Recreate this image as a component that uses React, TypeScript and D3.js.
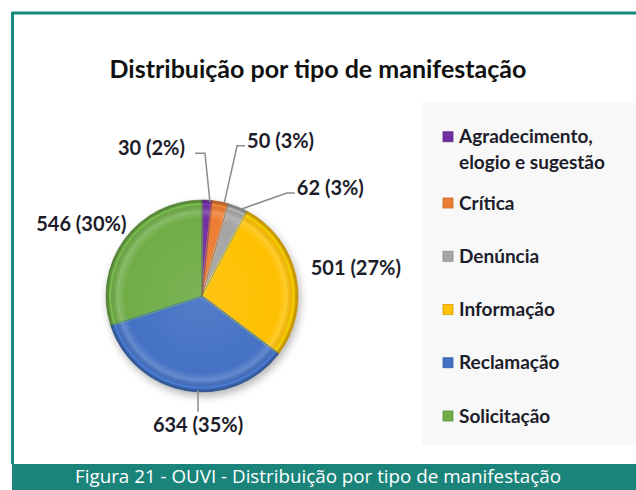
import * as d3 from "d3";

// tipos de manifestação, em ordem horária a partir das 12h
const categories = [
  "Agradecimento, elogio e sugestão",
  "Crítica",
  "Denúncia",
  "Informação",
  "Reclamação",
  "Solicitação",
];
const values = [30, 50, 62, 501, 634, 546];
const colors = ["#7030a0", "#ed7d31", "#a5a5a5", "#ffc000", "#4472c4", "#70ad47"];
const legendLines = [
  ["Agradecimento,", "elogio e sugestão"],
  ["Crítica"],
  ["Denúncia"],
  ["Informação"],
  ["Reclamação"],
  ["Solicitação"],
];

const title = "Distribuição por tipo de manifestação";
const caption = "Figura 21 - OUVI - Distribuição por tipo de manifestação";

const W = 636;
const H = 490;
const cx = 202;
const cy = 296;
const R = 96;

// label placement relative to the slice edge point (outer radius)
// [dx, dy, anchor, leader kind]
const labelPlace: [number, number, string, string][] = [
  [-22, -52, "end", "elbowLeft"],
  [27, -61, "start", "elbowRight"],
  [59, -19, "start", "elbowRight"],
  [15, -7, "start", "none"],
  [12, 34, "middle", "down"],
  [2, -15, "end", "none"],
];

const total = d3.sum(values);
const fmtLabel = (v: number) => `${v} (${Math.round((v / total) * 100)}%)`;

export default function App() {
  const pie = d3
    .pie<number>()
    .sort(null)
    .value((d) => d);
  const arcs = pie(values);
  const arc = d3.arc<d3.PieArcDatum<number>>().innerRadius(0).outerRadius(R);
  const insetArc = d3
    .arc<d3.PieArcDatum<number>>()
    .innerRadius(0)
    .outerRadius(R - 4);

  const edge = (a: d3.PieArcDatum<number>) => {
    const m = (a.startAngle + a.endAngle) / 2;
    return [Math.sin(m) * R, -Math.cos(m) * R];
  };

  const labelFont = "Lato, 'Open Sans', sans-serif";
  const textColor = "#1d1d2b";

  // legend rows
  const legendY = d3.scaleLinear().domain([1, 5]).range([203, 416]);

  return (
    <svg
      width={W}
      height={H}
      viewBox={`0 0 ${W} ${H}`}
      style={{ position: "fixed", left: 0, top: 0, display: "block", background: "#fff" }}
    >
      <defs>
        <filter id="shadow" x="-20%" y="-20%" width="150%" height="150%">
          <feDropShadow dx="2" dy="4" stdDeviation="4" floodColor="#000" floodOpacity="0.3" />
        </filter>
        <radialGradient id="rim" gradientUnits="userSpaceOnUse" cx={0} cy={0} r={R}>
          <stop offset="0" stopColor="#fff" stopOpacity="0.08" />
          <stop offset="0.8" stopColor="#fff" stopOpacity="0" />
          <stop offset="0.88" stopColor="#fff" stopOpacity="0.18" />
          <stop offset="0.95" stopColor="#000" stopOpacity="0.04" />
          <stop offset="1" stopColor="#000" stopOpacity="0.28" />
        </radialGradient>
      </defs>

      {/* frame */}
      <line x1={12} y1={13} x2={W} y2={13} stroke="#16897e" strokeWidth={3} />
      <line x1={12.5} y1={12} x2={12.5} y2={464} stroke="#16897e" strokeWidth={3} />

      {/* legend panel */}
      <rect x={422} y={103} width={W - 422} height={342} fill="#f8f8f8" />

      <text
        x={318}
        y={78}
        textAnchor="middle"
        fontFamily={labelFont}
        fontWeight={700}
        fontSize={25}
        fill="#111"
      >
        {title}
      </text>

      {/* pie */}
      <g transform={`translate(${cx},${cy})`}>
        <g filter="url(#shadow)">
          {arcs.map((a, i) => (
            <path key={i} d={arc(a) || ""} fill={colors[i]} />
          ))}
        </g>
        {arcs.map((a, i) => (
          <path
            key={"in" + i}
            d={insetArc(a) || ""}
            fill="none"
            stroke={d3.color(colors[i])!.brighter(0.7).toString()}
            strokeWidth={2}
            strokeOpacity={0.6}
          />
        ))}
        {arcs.map((a, i) => (
          <path key={"r" + i} d={arc(a) || ""} fill="url(#rim)" />
        ))}
        {arcs.map((a, i) => (
          <path
            key={"s" + i}
            d={arc(a) || ""}
            fill="none"
            stroke={d3.color(colors[i])!.darker(0.8).toString()}
            strokeWidth={1}
            strokeOpacity={0.6}
          />
        ))}

        {/* leaders + labels */}
        {arcs.map((a, i) => {
          const [ex, ey] = edge(a);
          const [dx, dy, anchor, kind] = labelPlace[i];
          const tx = ex + dx;
          const ty = ey + dy;
          let leader = null;
          if (kind === "elbowLeft") {
            leader = `M${tx + 10},${ty + 5}H${tx + 20}L${ex + 3},${ey + 2}`;
          } else if (kind === "elbowRight") {
            leader = `M${tx - 2},${ty + 5}H${tx - 10}L${ex + 4},${ey + 2}`;
          } else if (kind === "down") {
            const yEdge = Math.sqrt(R * R - tx * tx);
            leader = `M${tx},${yEdge - 2}V${ty - 13}`;
          }
          return (
            <g key={"l" + i}>
              {leader && <path d={leader} fill="none" stroke="#8c8c8c" strokeWidth={1.5} />}
              <text
                x={tx}
                y={ty}
                dy="0.35em"
                textAnchor={anchor}
                fontFamily={labelFont}
                fontWeight={700}
                fontSize={20}
                fill={textColor}
              >
                {fmtLabel(values[i])}
              </text>
            </g>
          );
        })}
      </g>

      {/* legend */}
      {categories.map((c, i) => {
        const lines = legendLines[i];
        const y0 = i === 0 ? legendY(0) - 13 : legendY(i);
        return (
          <g key={c}>
            <rect x={443} y={y0 - 5} width={10} height={10} fill={colors[i]} stroke={d3.color(colors[i])!.darker(0.5).toString()} strokeWidth={0.8} />
            {lines.map((ln, j) => (
              <text
                key={j}
                x={459}
                y={y0 + j * 26}
                dy="0.35em"
                fontFamily={labelFont}
                fontWeight={700}
                fontSize={19}
                fill={textColor}
              >
                {ln}
              </text>
            ))}
          </g>
        );
      })}

      {/* caption band */}
      <rect x={12} y={464} width={W - 12} height={H - 464} fill="#1b847a" />
      <text
        x={318}
        y={477}
        dy="0.35em"
        textAnchor="middle"
        fontFamily="'Open Sans', Lato, sans-serif"
        fontSize={18}
        fill="#fff"
        textLength={486}
        lengthAdjust="spacingAndGlyphs"
      >
        {caption}
      </text>
    </svg>
  );
}
